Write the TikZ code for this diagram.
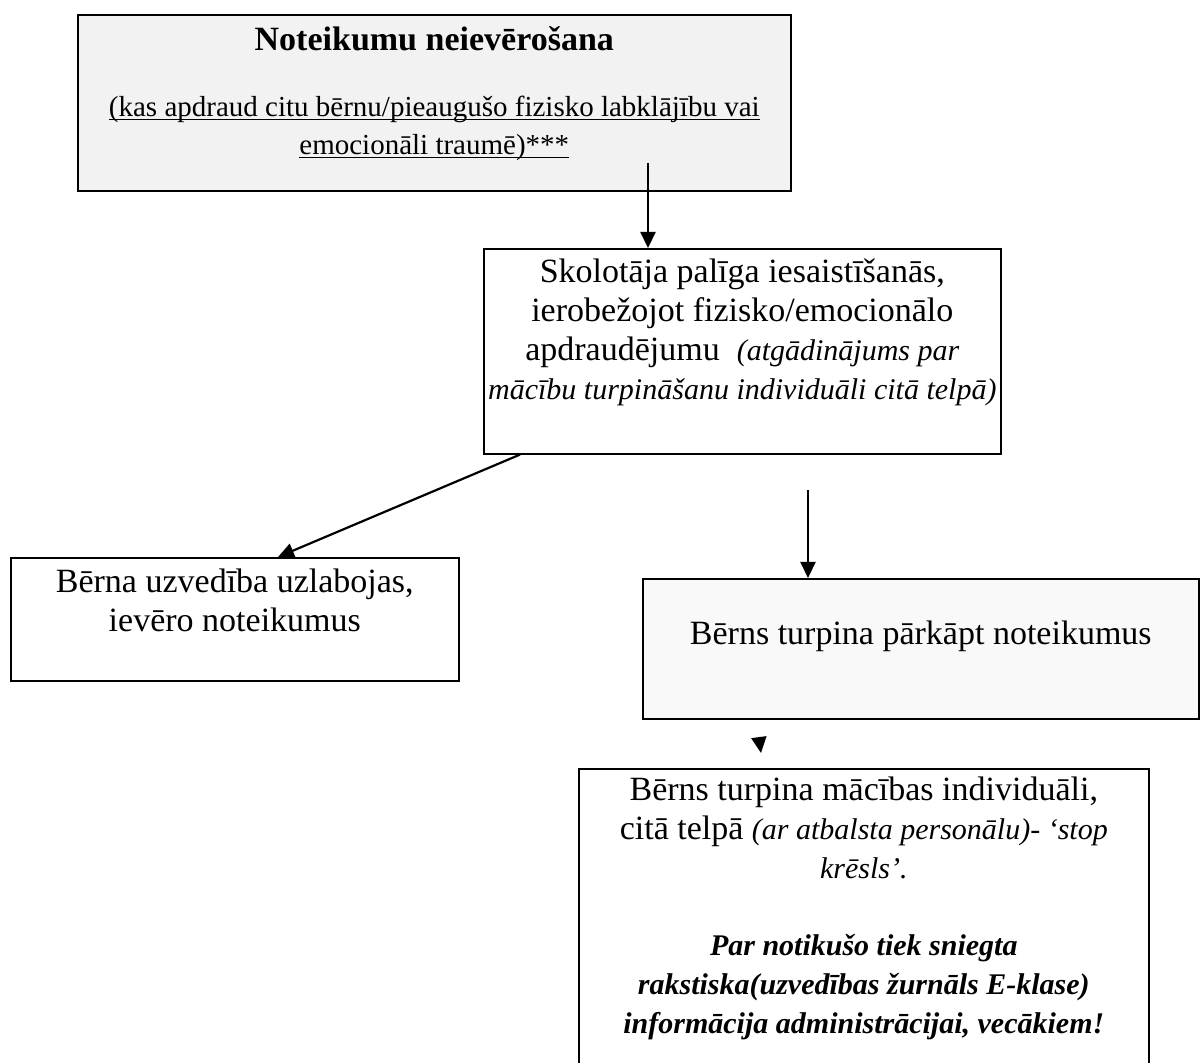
\documentclass[tikz,border=0pt]{standalone}
\usepackage{fontspec}
\setmainfont{Liberation Serif}
\usetikzlibrary{arrows.meta}
\newcommand{\boxbody}[3]{\parbox[t][#1][t]{#2}{\centering #3}}
\newsavebox{\ulinebox}
\newcommand{\undl}[1]{\leavevmode\sbox{\ulinebox}{#1}\rlap{\rule[-1.8pt]{\wd\ulinebox}{0.6pt}}\usebox{\ulinebox}}

\begin{document}
\begin{tikzpicture}[x=0.5pt, y=-0.5pt,
    box/.style={draw, line width=0.8pt, anchor=north west, inner sep=0pt},
    arr/.style={-{Triangle[length=8pt,width=7.5pt]}, line width=1.1pt},
    big/.style={font=\fontsize{17}{19.5}\selectfont}]

    \clip (0,0) rectangle (1200,1063);

    % Nodes
    \node[box, fill=gray!10, font=\fontsize{14.5}{19}\selectfont] (rules) at (77,14)
        {\boxbody{88pt}{356.5pt}{\vspace*{6pt}{\fontsize{17}{19.5}\selectfont\bfseries Noteikumu neievērošana\par}\vspace{14pt}
        \undl{(kas apdraud citu bērnu/pieaugušo fizisko labklājību vai}\\
        \undl{emocionāli traumē)***}}};
    \node[box, big] (helper) at (483,248)
        {\boxbody{102.5pt}{258.5pt}{\vspace*{5pt}Skolotāja palīga iesaistīšanās,\\
        ierobežojot fizisko/emocionālo\\
        apdraudējumu~ {\fontsize{15}{19.5}\selectfont\itshape (atgādinājums par}\\
        {\fontsize{15}{19.5}\selectfont\itshape mācību turpināšanu individuāli citā telpā)}}};
    \node[box, big] (better) at (10,557)
        {\boxbody{61.5pt}{224pt}{\vspace*{5.5pt}Bērna uzvedība uzlabojas,\\
        ievēro noteikumus}};
    \node[box, big, fill=gray!5] (continues) at (642,578)
        {\boxbody{70pt}{278pt}{\vspace*{21pt}Bērns turpina pārkāpt noteikumus}};
    \node[box, big] (separate) at (578,768)
        {\boxbody{160pt}{285pt}{\vspace*{4pt}Bērns turpina mācības individuāli,\\
        citā telpā {\fontsize{15}{19}\selectfont\itshape (ar atbalsta personālu)- ‘stop}\\
        {\fontsize{15}{19}\selectfont\itshape krēsls’.}\par\vspace{19pt}
        {\fontsize{15}{19.5}\selectfont\bfseries\itshape Par notikušo tiek sniegta\\
        rakstiska(uzvedības žurnāls E-klase)\\
        informācija administrācijai, vecākiem!\par}}};

    \coordinate (a1) at (648,163);
    \coordinate (a3) at (808,490);
    \coordinate (a4s) at (759,738);
    \coordinate (a4e) at (761,753);

    % Edges
    \draw[arr] (a1) -- (a1 |- helper.north);
    \draw[arr] ([xshift=18.5pt]helper.south west) -- ([xshift=134pt]better.north west);
    \draw[arr] (a3) -- (a3 |- continues.north);
    \draw[arr] (a4s) -- (a4e);

\end{tikzpicture}
\end{document}
